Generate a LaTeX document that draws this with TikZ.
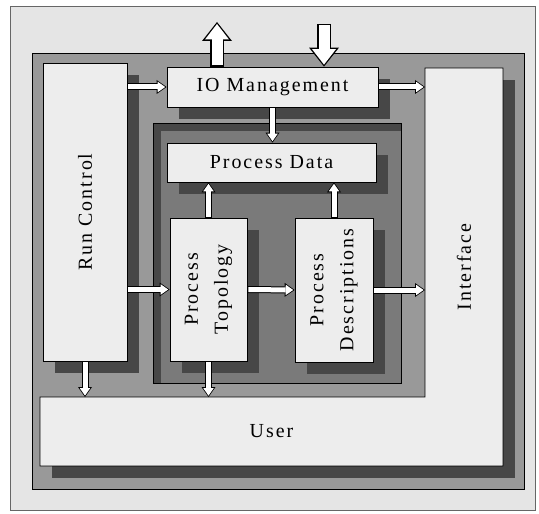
\documentclass[tikz,border=0pt]{standalone}
\usepackage{fontspec}
\newfontfamily\lblfont{Liberation Serif}[LetterSpace=10]
\usetikzlibrary{arrows.meta, shadows}
\tikzset{
x=1bp, y=-1bp, % one unit is one pixel of the scan, y runs downwards
lbl/.style={font=\lblfont\fontsize{20}{30}\selectfont, align=center}, % the texts
module/.style={lbl, draw, line width=0.8bp, fill=black!7, inner sep=0pt,
  drop shadow={shadow xshift=12bp, shadow yshift=-12bp, fill=black!72, opacity=1}}, % the white boxes
plain/.style={inner sep=0pt, outer sep=0pt}, % boxes whose shape is drawn by hand
shade box/.style={fill=black!72}, % hand made shadows
flowback/.style={line width=7bp, -{Triangle[length=10bp,width=14bp,line width=0pt]}}, % outline of a small arrow
flowfront/.style={white, line width=5bp, shorten <=1bp, shorten >=1.4bp, -{Triangle[length=7.5bp,width=10.5bp,line width=0pt]}}, % inside of a small arrow
bigback/.style={line width=14bp, -{Triangle[length=19bp,width=30bp,line width=0pt]}}, % outline of a big arrow
bigfront/.style={white, line width=11bp, shorten <=1.2bp, shorten >=2bp, -{Triangle[length=15.5bp,width=24bp,line width=0pt]}}, % inside of a big arrow
}
\newcommand{\flowarrow}[2]{\draw[flowback] #1 -- #2; \draw[flowfront] #1 -- #2;}
\newcommand{\bigflow}[2]{\draw[bigback] #1 -- #2; \draw[bigfront] #1 -- #2;}

\begin{document}
\begin{tikzpicture}
\useasboundingbox (0,0) rectangle (539,514);

% background and the two grey panels
\filldraw[fill=black!10, draw=black!60, line width=0.8bp] (10,6) rectangle (535,510);
\filldraw[fill=black!40, line width=0.9bp] (32,53) rectangle (524,489);
\fill[black!52] (153,123) rectangle (401,383);
\fill[black!72] (153,123) rectangle (401,131);
\fill[black!72] (153,123) rectangle (161,383);
\draw[line width=0.9bp] (153,123) rectangle (401,383);

% Interface and User form one L shaped box
\path node[plain, minimum width=78bp, minimum height=398bp] (iface) at (464,267) {};
\path node[plain, minimum width=463bp, minimum height=69bp] (user) at (271.5,431.5) {};
\fill[shade box] ([shift={(12,12)}]iface.north west) rectangle ([shift={(12,12)}]iface.south east);
\fill[shade box] ([shift={(12,12)}]user.north west) rectangle ([shift={(12,12)}]user.south east);
\fill[black!7] (iface.north west) rectangle (iface.south east);
\fill[black!7] (user.north west) rectangle (user.south east);
\draw[line width=0.8bp] (user.north west) -- (user.north west -| iface.west) -- (iface.north west)
  -- (iface.north east) -- (iface.south east) -- (user.south west) -- cycle;
\node[lbl, rotate=90] (ifacelbl) at (iface) {Interface};
\node[lbl] (userlbl) at (user) {User};

% the modules
\node[module, minimum width=84bp, minimum height=298bp] (rc) at (85,212) {};
\node[lbl, rotate=90] (rclbl) at (rc) {Run Control};
\node[module, minimum width=211bp, minimum height=40bp] (io) at (272.5,87) {IO Management};
\node[module, minimum width=209bp, minimum height=39bp] (pdata) at (271.5,162.5) {Process Data};
\node[module, minimum width=77bp, minimum height=143bp] (topo) at (208.5,289.5) {};
\node[lbl, rotate=90] (topolbl) at (topo) {Process\\Topology};
\node[module, minimum width=78bp, minimum height=144bp] (desc) at (334,290) {};
\node[lbl, rotate=90] (desclbl) at (desc) {Process\\Descriptions};

\coordinate (export) at (217,22);
\coordinate (import) at (324,24);

% data flow
\bigflow{(io.north -| export)}{(export)}
\bigflow{(import)}{(import |- io.north)}
\flowarrow{(rc.east |- io.west)}{(io.west)}
\flowarrow{(io.east)}{(io.east -| iface.west)}
\flowarrow{(io.south)}{(io.south |- pdata.north)}
\flowarrow{(topo.north)}{(topo.north |- pdata.south)}
\flowarrow{(desc.north)}{(desc.north |- pdata.south)}
\flowarrow{(rc.east |- topo.west)}{(topo.west)}
\flowarrow{(topo.east)}{(desc.west)}
\flowarrow{(desc.east)}{(desc.east -| iface.west)}
\flowarrow{(rc.south)}{(rc.south |- user.north)}
\flowarrow{(topo.south)}{(topo.south |- user.north)}

\end{tikzpicture}
\end{document}
